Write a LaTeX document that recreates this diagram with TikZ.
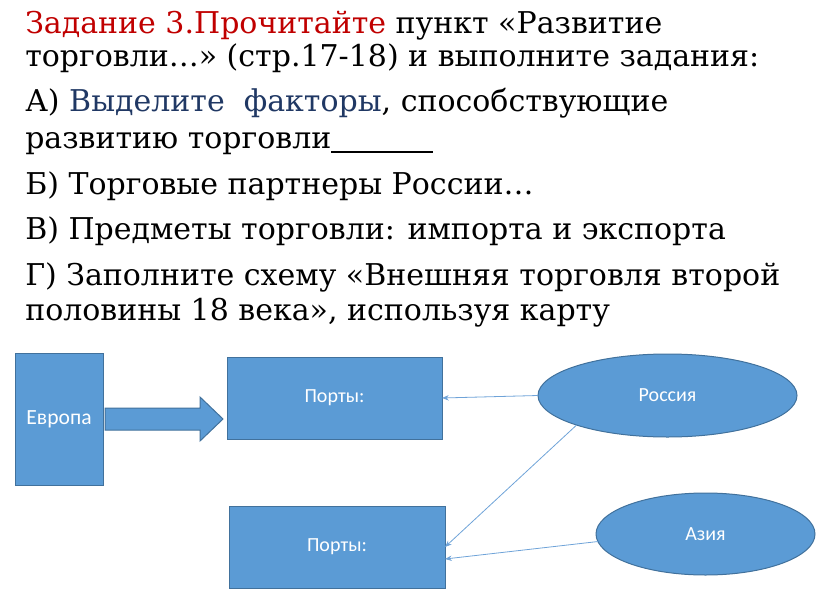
\documentclass[tikz,border=0pt]{standalone}
\usepackage{fontspec}
\setmainfont{DejaVu Serif}
\newfontfamily\diagfont{Carlito}
\definecolor{taskred}{HTML}{C00000}
\definecolor{tasknavy}{HTML}{203864}
\definecolor{boxfill}{HTML}{5B9BD5}
\definecolor{boxline}{HTML}{41719C}
\definecolor{linkblue}{HTML}{6FA3D8}
\usetikzlibrary{arrows.meta,shapes.geometric}
\tikzset{
  txtline/.style={anchor=base west, inner sep=0pt, font=\fontsize{22.5}{26}\selectfont},
  bluebox/.style={draw=boxline, fill=boxfill, line width=0.75pt, inner sep=0pt, outer sep=0pt,
    text=white, font=\diagfont\fontsize{15}{18}\selectfont},
  blueoval/.style={bluebox, ellipse},
  link/.style={draw=linkblue, line width=0.6pt, -{Stealth[length=5pt,width=4pt]}}
}
\begin{document}
\begin{tikzpicture}[x=0.75pt,y=-0.75pt]
\useasboundingbox (0,0) rectangle (816,613);
% text lines
\node[txtline] (l1) at (25,34) {\textcolor{taskred}{Задание 3.Прочитайте} пункт «Развитие};
\node[txtline] (l2) at (25,67) {торговли…» (стр.17-18) и выполните задания:};
\node[txtline] (l3) at (25,112) {А) \textcolor{tasknavy}{Выделите\ \ факторы}, способствующие};
\node[txtline] (l4) at (25,148) {развитию торговли\rule[-3.5pt]{76pt}{0.9pt}};
\node[txtline] (l5) at (25,194) {Б) Торговые партнеры России…};
\node[txtline] (l6) at (25,239) {В) Предметы торговли: импорта и экспорта};
\node[txtline] (l7) at (25,285) {Г) Заполните схему «Внешняя торговля второй};
\node[txtline] (l8) at (25,320) {половины 18 века», используя карту};
% diagram
\node[bluebox, minimum width=66pt, minimum height=99pt, font=\diagfont\fontsize{16.2}{19}\selectfont] (eu) at (59,419) {Европа};
\node[bluebox, minimum width=161.25pt, minimum height=61.5pt] (p1) at (334.5,398) {Порты:};
\node[bluebox, minimum width=162pt, minimum height=61.5pt] (p2) at (337,547) {Порты:};
\node[blueoval, minimum width=194.25pt, minimum height=62.25pt] (ru) at (667.5,395.5) {Россия};
\node[blueoval, minimum width=164.25pt, minimum height=61.5pt] (as) at (705.5,534) {Азия};
% block arrow Europe -> Ports
\filldraw[draw=boxline, fill=boxfill, line width=0.75pt]
  (105,408) -- (200,408) -- (200,397) -- (223,419) -- (200,441) -- (200,430) -- (105,430) -- cycle;
% links
\draw[link] (ru.west) -- (p1.east);
\draw[link] (ru.198) -- (p2.east);
\draw[link] (as.184) -- ([yshift=-9pt]p2.east);
\end{tikzpicture}
\end{document}
